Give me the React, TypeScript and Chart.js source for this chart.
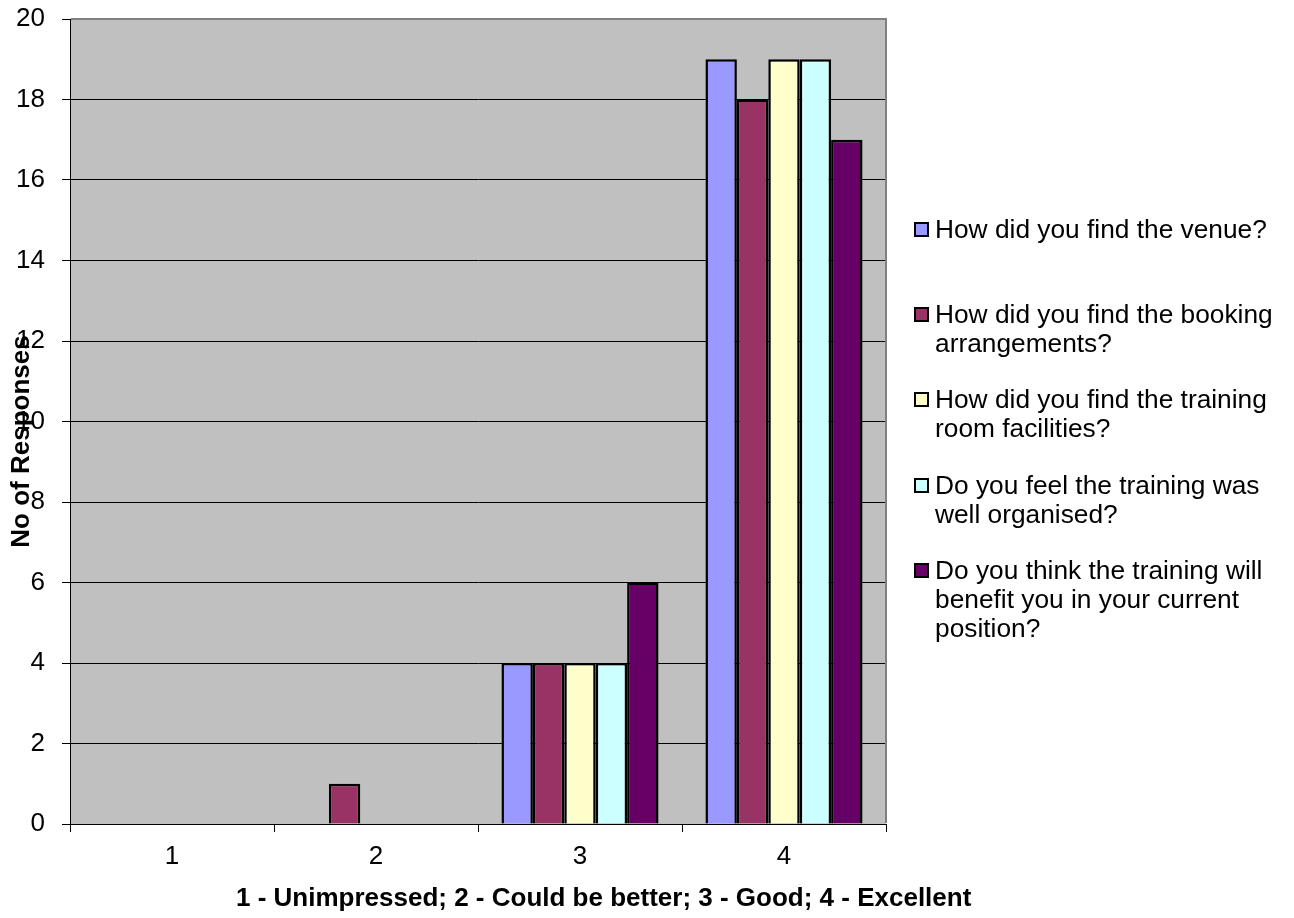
import React, { useEffect, useRef } from "react";
import { Chart, registerables } from "chart.js";

Chart.register(...registerables);

const categories = ["1", "2", "3", "4"];
const venue = [0, 0, 4, 19];
const booking = [0, 1, 4, 18];
const facilities = [0, 0, 4, 19];
const organised = [0, 0, 4, 19];
const benefit = [0, 0, 6, 17];
const seriesLabels = [
  "How did you find the venue?",
  "How did you find the booking arrangements?",
  "How did you find the training room facilities?",
  "Do you feel the training was well organised?",
  "Do you think the training will benefit you in your current position?",
];
const seriesColors = ["#9999FF", "#993366", "#FFFFCC", "#CCFFFF", "#660066"];
const yMin = 0;
const yMax = 20;
const yStep = 2;
const xTitle = "1 - Unimpressed; 2 - Could be better; 3 - Good; 4 - Excellent";
const yTitle = "No of Responses";

const FONT = "'Liberation Sans', Arial, sans-serif";

const plotDecor = {
  id: "plotDecor",
  beforeDraw(chart: any) {
    const { ctx, chartArea: a } = chart;
    ctx.save();
    ctx.fillStyle = "#C0C0C0";
    ctx.fillRect(a.left, a.top, a.right - a.left, a.bottom - a.top);
    ctx.restore();
  },
  afterDraw(chart: any) {
    const { ctx, chartArea: a } = chart;
    ctx.save();
    ctx.strokeStyle = "#808080";
    ctx.lineWidth = 2;
    ctx.beginPath();
    ctx.moveTo(a.left + 1, a.top);
    ctx.lineTo(a.right, a.top);
    ctx.lineTo(a.right, a.bottom - 1);
    ctx.stroke();
    // axis titles
    ctx.fillStyle = "#000";
    ctx.font = `bold 26px ${FONT}`;
    ctx.textAlign = "center";
    ctx.textBaseline = "middle";
    const w = a.right - a.left;
    ctx.fillText(xTitle, a.left + w * 0.654, a.bottom + 75);
    ctx.translate(a.left - 48, (a.top + a.bottom) / 2 + 20);
    ctx.rotate(-Math.PI / 2);
    ctx.fillText(yTitle, 0, 0);
    ctx.restore();
  },
};

export default function App() {
  const ref = useRef<HTMLCanvasElement | null>(null);

  useEffect(() => {
    document.body.style.margin = "0";
    const dataSets = [venue, booking, facilities, organised, benefit];
    const chart = new Chart(ref.current as HTMLCanvasElement, {
      type: "bar",
      data: {
        labels: categories,
        datasets: dataSets.map((d, i) => ({
          label: seriesLabels[i],
          data: d,
          backgroundColor: seriesColors[i],
          borderColor: "#000000",
          borderWidth: 2.5,
          categoryPercentage: 0.77,
          barPercentage: 1,
        })),
      },
      options: {
        animation: false,
        responsive: false,
        devicePixelRatio: 1,
        layout: { padding: { top: 19, right: 408, left: 0, bottom: 0 } },
        plugins: {
          legend: { display: false },
          tooltip: { enabled: false },
          title: { display: false },
        },
        scales: {
          x: {
            type: "category",
            grid: {
              offset: true,
              drawOnChartArea: false,
              drawTicks: true,
              tickLength: 8,
              color: "#000000",
            },
            border: { color: "#000000", width: 1 },
            ticks: {
              color: "#000000",
              font: { family: FONT, size: 26 },
              padding: 9,
            },
            afterFit: (scale: any) => {
              scale.height = 94;
              scale.paddingLeft = 0;
              scale.paddingRight = 0;
            },
          },
          y: {
            min: yMin,
            max: yMax,
            grid: {
              color: "#000000",
              tickLength: 8,
              drawTicks: true,
            },
            border: { color: "#000000", width: 1 },
            ticks: {
              stepSize: yStep,
              color: "#000000",
              font: { family: FONT, size: 26 },
              padding: 17,
            },
            afterFit: (scale: any) => {
              scale.width = 70;
              scale.paddingTop = 0;
              scale.paddingBottom = 0;
            },
          },
        },
      },
      plugins: [plotDecor],
    });
    return () => chart.destroy();
  }, []);

  const slot = 85.4;
  const firstTop = 214.5;

  return (
    <div style={{ position: "relative", width: 1294, height: 918, fontFamily: FONT }}>
      <canvas ref={ref} width={1294} height={918} style={{ display: "block", width: 1294, height: 918 }} />
      {seriesLabels.map((lab, i) => (
        <div
          key={i}
          style={{
            position: "absolute",
            left: 914,
            top: firstTop + i * slot,
            width: 370,
            display: "flex",
            alignItems: "flex-start",
            fontSize: 26.3,
            lineHeight: "29px",
            color: "#000",
          }}
        >
          <span
            style={{
              display: "inline-block",
              boxSizing: "border-box",
              width: 15,
              height: 15,
              marginTop: 7,
              marginRight: 6,
              border: "2px solid #000",
              background: seriesColors[i],
              flex: "0 0 auto",
            }}
          />
          <span style={{ width: 349 }}>{lab}</span>
        </div>
      ))}
    </div>
  );
}
